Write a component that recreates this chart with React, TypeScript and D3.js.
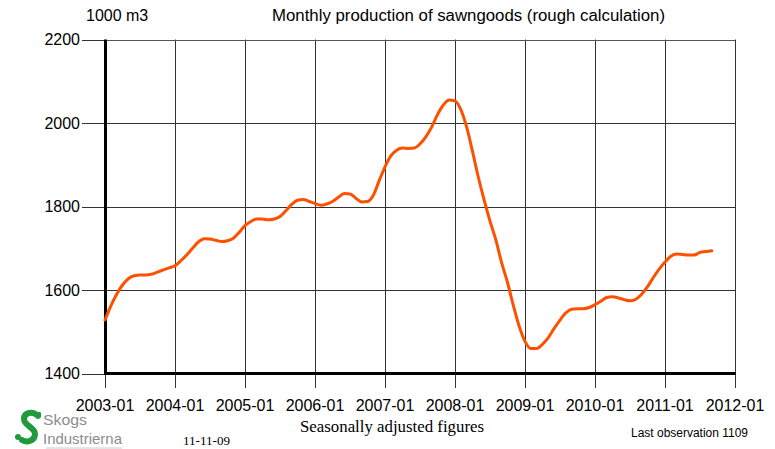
import React from "react";
import * as d3 from "d3";

const W = 775;
const H = 449;

// Monthly values, 2003-01 .. 2011-09 (1000 m3, seasonally adjusted)
const values: number[] = [
  1528, 1562, 1590, 1612, 1627, 1634, 1636, 1636, 1638, 1643, 1648, 1653,
  1658, 1670, 1684, 1700, 1715, 1723, 1722, 1719, 1716, 1718, 1724, 1738,
  1754, 1764, 1770, 1770, 1768, 1770, 1776, 1790, 1805, 1815, 1817, 1812,
  1807, 1803, 1806, 1812, 1822, 1831, 1830, 1820, 1811, 1812, 1827, 1862,
  1895, 1921, 1935, 1940, 1939, 1940, 1950, 1967, 1990, 2020, 2043, 2055,
  2053, 2032, 1990, 1932, 1870, 1815, 1765, 1720, 1665, 1618, 1563, 1513,
  1477, 1460, 1460, 1470, 1486, 1508, 1528, 1545, 1554, 1555, 1555, 1558,
  1565, 1573, 1582, 1584, 1581, 1577, 1574, 1578, 1590, 1608, 1630, 1650,
  1667, 1681, 1686, 1685, 1684, 1684, 1690, 1692, 1694,
];
const xTickLabels = [
  "2003-01", "2004-01", "2005-01", "2006-01", "2007-01",
  "2008-01", "2009-01", "2010-01", "2011-01", "2012-01",
];
const yTicks = [1400, 1600, 1800, 2000, 2200];

const title = "Monthly production of sawngoods (rough calculation)";
const unit = "1000 m3";
const footer = "Seasonally adjusted figures";
const dateText = "11-11-09";
const lastObs = "Last observation 1109";

export default function App() {
  const left = 105;
  const right = 735;
  const top = 39.5;
  const bottom = 373.5;

  const x = d3.scaleLinear().domain([0, (xTickLabels.length - 1) * 12]).range([left, right]);
  const y = d3.scaleLinear().domain([1400, 2200]).range([bottom, top]);

  const line = d3
    .line<number>()
    .x((_, i) => x(i))
    .y((d) => y(d))
    .curve(d3.curveMonotoneX);

  const sans = "Arial, 'Liberation Sans', sans-serif";
  const serif = "'Times New Roman', 'Liberation Serif', serif";

  return (
    <svg
      width={W}
      height={H}
      viewBox={`0 0 ${W} ${H}`}
      style={{ position: "absolute", left: 0, top: 0, background: "#fff" }}
    >
      <rect x={0} y={0} width={W} height={H} fill="#fff" />
      {/* header */}
      <text x={86} y={20.5} fontFamily={sans} fontSize={16} fill="#000">
        {unit}
      </text>
      <text x={272} y={20.5} fontFamily={sans} fontSize={16} fill="#000" textLength={393} lengthAdjust="spacingAndGlyphs">
        {title}
      </text>

      {/* vertical gridlines */}
      {xTickLabels.map((lab, i) => {
        const xx = Math.round(x(i * 12)) + 0.5;
        return (
          <g key={lab}>
            {i > 0 && (
              <line x1={xx} x2={xx} y1={top} y2={bottom} stroke="#333" strokeWidth={1} />
            )}
            <line x1={xx} x2={xx} y1={bottom} y2={388} stroke="#333" strokeWidth={1} />
            <text
              x={x(i * 12)}
              y={411}
              textAnchor="middle"
              fontFamily={sans}
              fontSize={16}
              fill="#000"
            >
              {lab}
            </text>
          </g>
        );
      })}

      {/* horizontal gridlines & y labels */}
      {yTicks.map((v) => {
        const yy = Math.round(y(v)) + 0.5;
        return (
          <g key={v}>
            {v !== 1400 && (
              <line x1={left} x2={right} y1={yy} y2={yy} stroke={v === 2200 ? "#555" : "#333"} strokeWidth={1} />
            )}
            <line x1={82} x2={left} y1={yy} y2={yy} stroke="#333" strokeWidth={1} />
            <text
              x={80}
              y={y(v)}
              dy="0.36em"
              textAnchor="end"
              fontFamily={sans}
              fontSize={16}
              fill="#000"
            >
              {v}
            </text>
          </g>
        );
      })}

      {/* axes */}
      <line x1={105.5} x2={105.5} y1={top} y2={bottom + 1.5} stroke="#000" strokeWidth={3} />
      <line x1={left} x2={right + 1} y1={bottom} y2={bottom} stroke="#000" strokeWidth={3} />

      {/* data line */}
      <path d={line(values) || ""} fill="none" stroke="#ff5000" strokeWidth={3} strokeLinejoin="round" strokeLinecap="round" />

      {/* footer */}
      <text x={300} y={432} fontFamily={serif} fontSize={16} fill="#000" textLength={184} lengthAdjust="spacingAndGlyphs">
        {footer}
      </text>
      <text x={183} y={445} fontFamily={serif} fontSize={13} fill="#000" textLength={47} lengthAdjust="spacingAndGlyphs">
        {dateText}
      </text>
      <text x={631} y={437} fontFamily={sans} fontSize={12} fill="#000" textLength={117} lengthAdjust="spacingAndGlyphs">
        {lastObs}
      </text>

      {/* logo */}
      <g>
        <path
          d="M38,416 C33,411 24,412 24,419 C24,426 35,427 35,434 C35,441 27,443 22,440"
          fill="none"
          stroke="#1f9a3c"
          strokeWidth={6}
          strokeLinecap="round"
        />
        <circle cx={18} cy={437} r={3} fill="#1f9a3c" />
        <circle cx={39} cy={414} r={2.2} fill="#1f9a3c" />
        <text x={43} y={425} fontFamily={sans} fontSize={15} fill="#8c8c8c" textLength={44} lengthAdjust="spacingAndGlyphs">
          Skogs
        </text>
        <text x={43} y={444} fontFamily={sans} fontSize={15} fill="#8c8c8c" textLength={79} lengthAdjust="spacingAndGlyphs">
          Industrierna
        </text>
        <line x1={46} x2={122} y1={448} y2={448} stroke="#ccc" strokeWidth={1} />
      </g>
    </svg>
  );
}
